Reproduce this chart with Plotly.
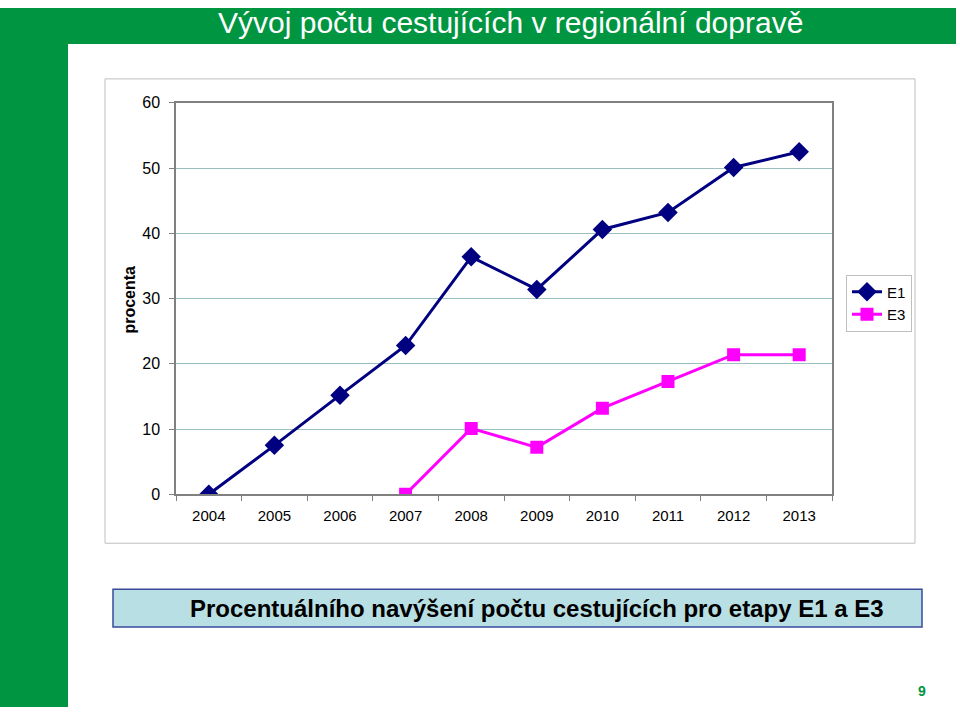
import plotly.graph_objects as go

years = ["2004", "2005", "2006", "2007", "2008", "2009", "2010", "2011", "2012", "2013"]
e1_values = [0, 7.5, 15.2, 22.8, 36.4, 31.4, 40.6, 43.2, 50.1, 52.5]
e3_years = ["2007", "2008", "2009", "2010", "2011", "2012", "2013"]
e3_values = [0, 10.1, 7.2, 13.2, 17.3, 21.4, 21.4]
y_ticks = [0, 10, 20, 30, 40, 50, 60]

W, H = 960, 716
GREEN = "#009540"
FONT = "Liberation Sans, Arial, sans-serif"

def px(x):
    return x / W

def py(y):
    # page photographed into an 8..708 band
    return min(1.0, max(0.0, 1 - (y - 8) / 700))

fig = go.Figure()
fig.add_trace(go.Scatter(
    x=years, y=e1_values, name="E1", mode="lines+markers",
    line=dict(color="#000080", width=3),
    marker=dict(symbol="diamond", size=15, color="#000080"),
))
fig.add_trace(go.Scatter(
    x=e3_years, y=e3_values, name="E3", mode="lines+markers",
    line=dict(color="#FF00FF", width=3),
    marker=dict(symbol="square", size=13, color="#FF00FF"),
))

shapes = [
    dict(type="rect", xref="paper", yref="paper", x0=0, x1=px(68), y0=0, y1=1,
         fillcolor=GREEN, line=dict(width=0), layer="below"),
    dict(type="rect", xref="paper", yref="paper", x0=0, x1=px(956), y0=py(44), y1=1,
         fillcolor=GREEN, line=dict(width=0), layer="below"),
    dict(type="rect", xref="paper", yref="paper", x0=px(105), x1=px(915), y0=py(544), y1=py(79),
         fillcolor="white", line=dict(color="#BFBFBF", width=1), layer="below"),
    dict(type="rect", xref="paper", yref="paper", x0=px(113), x1=px(922), y0=py(628), y1=py(590),
         fillcolor="#B8DFE3", line=dict(color="#3A4A9A", width=1.5), layer="below"),
]

annotations = [
    dict(text="Vývoj počtu cestujících v regionální dopravě", xref="paper", yref="paper",
         x=px(510), y=py(23), showarrow=False,
         font=dict(family=FONT, size=30, color="white"),
         xanchor="center", yanchor="middle"),
    dict(text="<b>procenta</b>", xref="paper", yref="paper", x=px(130), y=py(300),
         showarrow=False, textangle=-90, font=dict(family=FONT, size=16, color="black"),
         xanchor="center", yanchor="middle"),
    dict(text="<b>Procentuálního navýšení počtu cestujících pro etapy E1 a E3</b>",
         xref="paper", yref="paper", x=px(537), y=py(609), showarrow=False,
         font=dict(family=FONT, size=24, color="black"), xanchor="center", yanchor="middle"),
    dict(text="<b>9</b>", xref="paper", yref="paper", x=px(922), y=py(692), showarrow=False,
         font=dict(family=FONT, size=14, color=GREEN), xanchor="center", yanchor="middle"),
]

fig.update_layout(
    width=W, height=H,
    margin=dict(l=0, r=0, t=0, b=0),
    paper_bgcolor="white",
    plot_bgcolor="#C8FFFF",
    font=dict(family=FONT, size=15, color="black"),
    shapes=shapes,
    annotations=annotations,
    showlegend=True,
    legend=dict(x=px(846), y=py(275), xanchor="left", yanchor="top",
                bordercolor="#BFBFBF", borderwidth=1, bgcolor="white",
                font=dict(size=15), tracegroupgap=0, itemwidth=30),
    xaxis=dict(domain=[px(176), px(832)], type="category", categoryorder="array",
               categoryarray=years, range=[-0.5, 9.5], showgrid=False,
               showline=True, linecolor="#808080", linewidth=1.5, mirror=True,
               ticks="outside", tickson="boundaries", ticklen=5, tickcolor="#808080",
               tickfont=dict(size=15), ticklabelstandoff=7, fixedrange=True),
    yaxis=dict(domain=[py(495), py(103)], range=[0, 60], tickvals=y_ticks,
               showgrid=True, gridcolor="#9CC0C0", gridwidth=1,
               showline=True, linecolor="#808080", linewidth=1.5, mirror=True,
               ticks="outside", ticklen=5, tickcolor="#808080", zeroline=False,
               tickfont=dict(size=16), ticklabelstandoff=6),
)

fig.write_html("out.html", config={"displayModeBar": False},
               post_script="document.body.style.margin='0';")
